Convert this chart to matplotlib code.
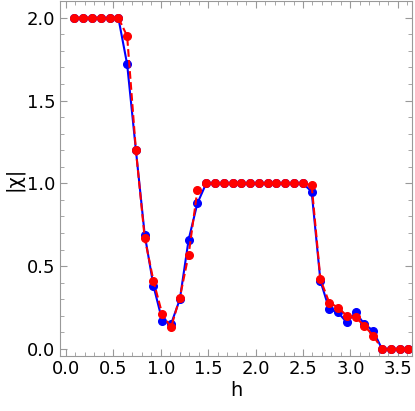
import numpy as np
import matplotlib
matplotlib.use("Agg")
import matplotlib.pyplot as plt
from matplotlib.ticker import MultipleLocator

h = np.linspace(0.09, 3.61, 39)
blue = [2, 2, 2, 2, 2, 2, 1.72, 1.20, 0.69, 0.38, 0.17, 0.15, 0.30, 0.66, 0.88,
        1, 1, 1, 1, 1, 1, 1, 1, 1, 1, 1, 1, 0.95, 0.41, 0.24, 0.22, 0.16, 0.22,
        0.15, 0.11, 0, 0, 0, 0]
red = [2, 2, 2, 2, 2, 2, 1.89, 1.20, 0.67, 0.41, 0.21, 0.13, 0.31, 0.57, 0.96,
       1, 1, 1, 1, 1, 1, 1, 1, 1, 1, 1, 1, 0.99, 0.42, 0.28, 0.25, 0.20, 0.19,
       0.14, 0.08, 0, 0, 0, 0]

fig = plt.figure(figsize=(4.15, 4.11), dpi=100)
ax = fig.add_axes([0.145, 0.135, 0.848, 0.862])
ax.plot(h, blue, '-o', color='#0000ff', lw=1.5, ms=5.5)
ax.plot(h, red, '--o', color='#ff0000', lw=1.5, ms=5.5)
ax.set_xlim(-0.06, 3.65)
ax.set_ylim(-0.04, 2.1)
ax.xaxis.set_major_locator(MultipleLocator(0.5))
ax.xaxis.set_minor_locator(MultipleLocator(0.1))
ax.yaxis.set_major_locator(MultipleLocator(0.5))
ax.yaxis.set_minor_locator(MultipleLocator(0.1))
ax.tick_params(which='both', direction='in', top=True, right=True, labelsize=13)
ax.tick_params(which='major', length=5)
ax.tick_params(which='minor', length=3)
for s in ax.spines.values():
    s.set_color('#999999')
ax.tick_params(which='both', color='#999999')
ax.set_xlabel('h', fontsize=14, labelpad=2)
ax.set_ylabel('|χ|', fontsize=14, labelpad=2)
fig.savefig('out.png', dpi=100)
